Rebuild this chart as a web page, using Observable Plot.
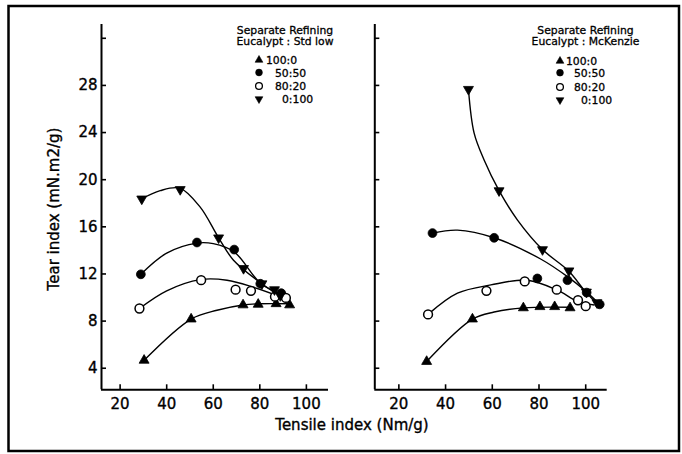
<!DOCTYPE html>
<html>
<head>
<meta charset="utf-8">
<script src="https://cdn.jsdelivr.net/npm/d3@7"></script>
<script src="https://cdn.jsdelivr.net/npm/@observablehq/plot@0.6"></script>
<style>
  html, body { margin: 0; padding: 0; background: #fff; }
  #wrap { position: relative; width: 682px; height: 454px; background: #fff; overflow: hidden; font-family: "DejaVu Sans", sans-serif; }
  #wrap svg.plot { position: absolute; top: 0; }
  #wrap svg.plot text { stroke: black; stroke-width: 0.35px; }
  #overlay { position: absolute; left: 0; top: 0; pointer-events: none; }
</style>
</head>
<body>
<div id="wrap"></div>
<script>
// ---------- DATA ----------
const seriesNames = ["100:0", "50:50", "80:20", "0:100"];
const xTicks = [20, 40, 60, 80, 100];
const yTicks = [4, 8, 12, 16, 20, 24, 28, 32];
const yTickLabels = ["4", "8", "12", "16", "20", "24", "28", ""];
const xTitle = "Tensile index (Nm/g)";
const yTitle = "Tear index (mN.m2/g)";
const legendTitleLeft = ["Separate Refining", "Eucalypt : Std low"];
const legendTitleRight = ["Separate Refining", "Eucalypt : McKenzie"];

// Left panel: Eucalypt : Std low — measured points [tensile, tear]
const stdLow_100_0 = [[30.3, 4.5], [50.5, 8.0], [72.8, 9.2], [79.3, 9.25], [87.0, 9.3], [92.8, 9.2]];
const stdLow_50_50 = [[28.9, 11.8], [53.0, 14.5], [69.0, 13.9], [80.2, 11.0], [89.2, 10.2]];
const stdLow_80_20 = [[28.3, 8.9], [54.8, 11.3], [69.6, 10.5], [76.2, 10.4], [86.5, 9.9], [91.2, 9.8]];
const stdLow_0_100 = [[29.3, 18.2], [45.8, 19.0], [62.3, 14.9], [73.0, 12.3], [80.9, 11.0], [86.3, 10.5], [88.8, 10.0]];
// Left panel fitted curves
const stdLowFit_100_0 = [[30.3, 4.5], [50.5, 8.0], [61.6, 8.75], [72.8, 9.2], [80.0, 9.3], [92.8, 9.3]];
const stdLowFit_50_50 = [[28.9, 11.8], [40.0, 13.6], [53.0, 14.45], [60.0, 14.4], [69.0, 13.7], [80.5, 11.0], [89.7, 10.1]];
const stdLowFit_80_20 = [[28.3, 8.9], [40.0, 10.4], [54.4, 11.35], [65.9, 11.3], [77.3, 10.7], [90.2, 9.8]];
const stdLowFit_0_100 = [[29.3, 18.2], [37.2, 18.9], [45.8, 19.1], [54.4, 17.5], [62.3, 14.9], [68.7, 13.0], [80.9, 11.0], [90.0, 9.8]];

// Right panel: Eucalypt : McKenzie — measured points
const mck_100_0 = [[31.9, 4.4], [51.5, 8.0], [73.3, 8.95], [80.4, 9.05], [86.7, 9.05], [93.3, 8.95]];
const mck_50_50 = [[34.4, 15.3], [60.8, 14.9], [79.3, 11.45], [92.2, 11.3], [100.4, 10.25], [106.0, 9.25]];
const mck_80_20 = [[32.5, 8.4], [57.5, 10.4], [73.9, 11.2], [87.6, 10.5], [96.7, 9.6], [100.0, 9.1]];
const mck_0_100 = [[49.8, 27.5], [62.9, 18.9], [81.5, 13.9], [92.8, 12.1], [100.3, 10.3], [104.8, 9.4]];
// Right panel fitted curves
const mckFit_100_0 = [[31.9, 4.4], [51.5, 8.0], [60.8, 8.6], [73.3, 8.95], [93.3, 9.0]];
const mckFit_50_50 = [[34.4, 15.3], [45.1, 15.55], [60.8, 14.9], [80.7, 13.1], [92.2, 11.6], [100.4, 10.3], [106.0, 9.25]];
const mckFit_80_20 = [[32.5, 8.4], [45.1, 10.2], [59.4, 10.9], [75.1, 11.3], [87.9, 10.45], [96.5, 9.5], [103.6, 9.2]];
const mckFit_0_100 = [[49.8, 27.5], [52.2, 23.8], [56.5, 21.5], [62.9, 18.9], [70.8, 16.4], [81.5, 13.9], [92.6, 12.1], [100.0, 10.3], [105.0, 9.3]];

const leftXDomain = [12, 109.5];
const rightXDomain = [9.7, 109.2];
const yDomain = [2, 33];

// ---------- STYLE ----------
const symbolStyle = {
  "100:0": {symbol: "triangle", rotate: 0, fill: "black", stroke: "black"},
  "50:50": {symbol: "circle", rotate: 0, fill: "black", stroke: "black"},
  "80:20": {symbol: "circle", rotate: 0, fill: "white", stroke: "black"},
  "0:100": {symbol: "triangle", rotate: 180, fill: "black", stroke: "black"}
};

function rows(series, arrays) {
  return arrays.flatMap((arr, i) => arr.map(([x, y]) => ({series: series[i], x, y})));
}

const leftPoints = rows(seriesNames, [stdLow_100_0, stdLow_50_50, stdLow_80_20, stdLow_0_100]);
const leftFits = rows(seriesNames, [stdLowFit_100_0, stdLowFit_50_50, stdLowFit_80_20, stdLowFit_0_100]);
const rightPoints = rows(seriesNames, [mck_100_0, mck_50_50, mck_80_20, mck_0_100]);
const rightFits = rows(seriesNames, [mckFit_100_0, mckFit_50_50, mckFit_80_20, mckFit_0_100]);

function panel({points, fits, xDomain, width, marginLeft, marginRight, showYLabels}) {
  const dotMarks = seriesNames.map(s => {
    const st = symbolStyle[s];
    return Plot.dot(points.filter(d => d.series === s), {
      x: "x", y: "y", symbol: st.symbol, rotate: st.rotate,
      r: st.symbol === "circle" ? 4.4 : 3.7,
      fill: st.fill, stroke: st.stroke, strokeWidth: st.fill === "white" ? 1.5 : 0.8
    });
  });
  return Plot.plot({
    width, height: 454,
    marginLeft, marginRight, marginTop: 24, marginBottom: 64.7,
    style: {fontFamily: "DejaVu Sans, sans-serif", background: "transparent", overflow: "visible"},
    x: {domain: xDomain, label: null},
    y: {domain: yDomain, label: null},
    marks: [
      Plot.line(fits, {x: "x", y: "y", z: "series", curve: "catmull-rom", stroke: "black", strokeWidth: 1.4}),
      ...dotMarks,
      Plot.axisX({ticks: xTicks, tickSize: -5, tickPadding: 14, fontSize: 15, tickFormat: d => String(d), strokeWidth: 1.6, label: null}),
      Plot.axisY({ticks: yTicks, tickSize: -5, tickPadding: 9, fontSize: 15, dy: 2,
        tickFormat: showYLabels ? (d => yTickLabels[yTicks.indexOf(d)]) : (() => ""), strokeWidth: 1.6, label: null}),
      Plot.ruleX([xDomain[0]], {strokeWidth: 2}),
      Plot.ruleY([yDomain[0]], {strokeWidth: 2})
    ]
  });
}

const wrap = document.getElementById("wrap");
const left = panel({points: leftPoints, fits: leftFits, xDomain: leftXDomain, width: 345, marginLeft: 101, marginRight: 17, showYLabels: true});
left.classList.add("plot");
left.style.left = "0px";
wrap.appendChild(left);
const right = panel({points: rightPoints, fits: rightFits, xDomain: rightXDomain, width: 337, marginLeft: 29.3, marginRight: 75.3, showYLabels: false});
right.classList.add("plot");
right.style.left = "345px";
wrap.appendChild(right);

// ---------- overlay: border, titles, legends ----------
const svg = d3.select(wrap).append("svg").attr("id", "overlay").attr("width", 682).attr("height", 454);
svg.append("rect").attr("x", 8.5).attr("y", 6).attr("width", 670.5).attr("height", 445)
  .attr("fill", "none").attr("stroke", "black").attr("stroke-width", 2.5);

svg.append("text").attr("x", 352).attr("y", 430).attr("text-anchor", "middle")
  .attr("font-size", 15).attr("font-family", "DejaVu Sans, sans-serif")
  .attr("stroke", "black").attr("stroke-width", 0.35).text(xTitle);
svg.append("text").attr("transform", "translate(59,209) rotate(-90)").attr("text-anchor", "middle")
  .attr("font-size", 15).attr("font-family", "DejaVu Sans, sans-serif")
  .attr("stroke", "black").attr("stroke-width", 0.35).text(yTitle);

function legend(cx, titleLines, symX, textXs, rowYs) {
  const g = svg.append("g").attr("font-family", "DejaVu Sans, sans-serif").attr("font-size", 10.8)
    .attr("stroke", "black").attr("stroke-width", 0.3);
  titleLines.forEach((t, i) => g.append("text").attr("x", cx).attr("y", 33.5 + i * 11.8).attr("text-anchor", "middle").text(t));
  seriesNames.forEach((s, i) => {
    const st = symbolStyle[s];
    const isCircle = st.symbol === "circle";
    g.append("path")
      .attr("d", d3.symbol(isCircle ? d3.symbolCircle : d3.symbolTriangle, isCircle ? 36 : 26)())
      .attr("transform", `translate(${symX},${rowYs[i]}) rotate(${st.rotate})`)
      .attr("fill", st.fill).attr("stroke", "black").attr("stroke-width", isCircle && st.fill === "white" ? 1.3 : 0.6);
    g.append("text").attr("x", textXs[i]).attr("y", rowYs[i] + 4).text(s);
  });
}
legend(285, legendTitleLeft, 259, [266, 275, 275, 282], [60, 72.5, 86, 99]);
legend(585.5, legendTitleRight, 560, [566, 574, 574, 581], [61, 72.7, 87, 100]);
</script>
</body>
</html>
